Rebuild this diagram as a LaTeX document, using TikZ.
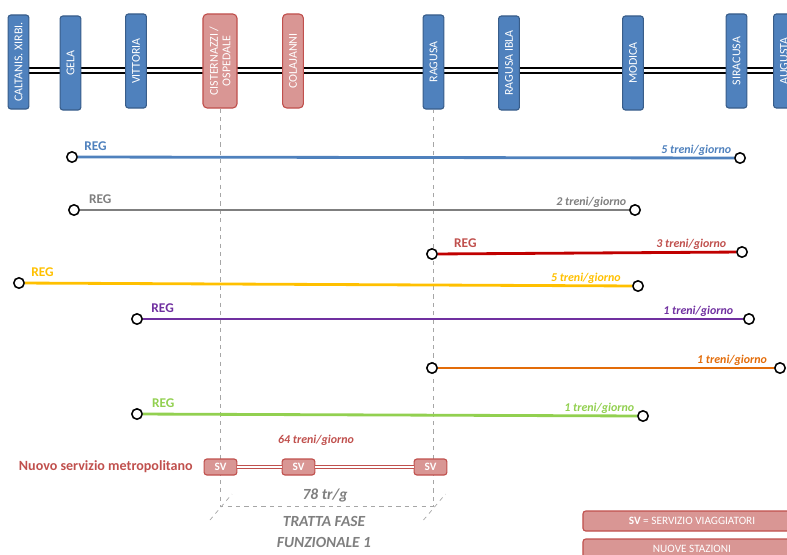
\documentclass[tikz,border=0pt]{standalone}
\usepackage{fontspec}
\setmainfont{Carlito}
\usepackage{xcolor}
\usepackage{tikz}

\definecolor{stblue}{HTML}{4F81BD}
\definecolor{stbluedk}{HTML}{385D8A}
\definecolor{stred}{HTML}{D99694}
\definecolor{streddk}{HTML}{C0504D}
\definecolor{lnblue}{HTML}{4F81BD}
\definecolor{lngrey}{HTML}{7F7F7F}
\definecolor{lnred}{HTML}{C00000}
\definecolor{lnyellow}{HTML}{FFC000}
\definecolor{lnpurple}{HTML}{7030A0}
\definecolor{lnorange}{HTML}{E36C09}
\definecolor{lngreen}{HTML}{92D050}
\definecolor{guidegrey}{HTML}{A6A6A6}

\begin{document}
\begin{tikzpicture}[x=0.025cm,y=-0.025cm]
    \tikzset{station/.style = {shape=rectangle, rounded corners=2pt, draw=stbluedk, fill=stblue, line width=0.8pt,
        text=white, rotate=90, minimum width=2.35cm, minimum height=0.52cm, inner sep=1pt,
        font=\fontsize{8.5}{9}\selectfont, align=center}}
    \tikzset{newstation/.style = {station, draw=streddk, fill=stred, rounded corners=3pt}}
    \tikzset{track/.style = {draw=black, double=white, line width=1pt, double distance=2.5pt}}
    \tikzset{stop/.style = {shape=circle, draw=black, fill=white, line width=1.1pt, minimum size=0.26cm, inner sep=0pt}}
    \tikzset{svc/.style = {line width=2pt}}
    \tikzset{reg/.style = {anchor=base west, inner sep=1pt, xshift=2.5pt, yshift=4.5pt,
        font=\bfseries\fontsize{9.5}{10}\selectfont}}
    \tikzset{freq/.style = {anchor=base east, inner sep=1pt, yshift=3pt,
        font=\bfseries\itshape\fontsize{8.5}{9}\selectfont}}
    \tikzset{sv/.style = {shape=rectangle, rounded corners=2pt, draw=streddk, fill=stred, line width=0.8pt,
        text=white, minimum width=0.82cm, minimum height=0.4cm, inner sep=1pt,
        font=\bfseries\fontsize{8}{9}\selectfont}}
    \tikzset{metro/.style = {draw=streddk, double=white, line width=0.6pt, double distance=1.2pt}}
    \tikzset{guide/.style = {draw=guidegrey, dashed, line width=0.5pt}}
    \tikzset{grey text/.style = {text=lngrey, font=\bfseries\itshape\fontsize{11}{15}\selectfont, align=center}}
    \tikzset{legend/.style = {shape=rectangle, rounded corners=2pt, draw=streddk, fill=stred, line width=0.8pt,
        text=white, minimum width=5.45cm, minimum height=0.5cm, inner sep=1pt, font=\fontsize{8}{9}\selectfont}}

    \useasboundingbox (0,0) rectangle (787,554);

    % linea ferroviaria
    \coordinate (tl) at (25,70.5);
    \coordinate (tr) at (795,70.5);
    \draw[track] (tl) -- (tr);

    % stazioni
    \node[station] (calt) at (18.5,62) {CALTANIS. XIRBI.};
    \node[station] (gela) at (70.5,63) {GELA};
    \node[station] (vitt) at (136,61) {VITTORIA};
    \node[newstation, minimum height=0.85cm] (cist) at (220,61) {CISTERNAZZI /\\OSPEDALE};
    \node[newstation] (cola) at (293,61) {COLAJANNI};
    \node[station] (ragu) at (433.5,62) {RAGUSA};
    \node[station] (ibla) at (509,63) {RAGUSA IBLA};
    \node[station] (modi) at (633,63) {MODICA};
    \node[station] (sira) at (736.5,61) {SIRACUSA};
    \node[station] (augu) at (784,61) {AUGUSTA};

    % tratta fase funzionale 1
    \coordinate (g1) at (220,506);
    \coordinate (g2) at (433.5,506);
    \draw[guide] (cist.west) -- (g1) -- (g2) -- (ragu.west);
    \draw[guide] ([shift={(-10,14)}]g1) -- ([shift={(12,-12)}]g1);
    \draw[guide] ([shift={(-10,14)}]g2) -- ([shift={(12,-12)}]g2);

    % servizi regionali
    \node[stop] (a1) at (72,157) {};
    \node[stop] (a2) at (740,158) {};
    \draw[svc, lnblue] (a1) -- (a2) node[pos=0, reg] {REG} node[pos=1, freq] {5 treni/giorno};

    \node[stop] (b1) at (74,210) {};
    \node[stop] (b2) at (635,210) {};
    \draw[svc, lngrey] (b1) -- (b2) node[pos=0, reg, xshift=2pt] {REG} node[pos=1, freq] {2 treni/giorno};

    \node[stop] (c1) at (432,254) {};
    \node[stop] (c2) at (742,252) {};
    \draw[svc, lnred] (c1) -- (c2) node[pos=0, reg, xshift=7pt, text=streddk] {REG}
        node[pos=1, freq, xshift=-5pt, text=streddk] {3 treni/giorno};

    \node[stop] (d1) at (19,283) {};
    \node[stop] (d2) at (638,286) {};
    \draw[svc, lnyellow] (d1) -- (d2) node[pos=0, reg] {REG} node[pos=1, freq, xshift=-6pt] {5 treni/giorno};

    \node[stop] (e1) at (137,319) {};
    \node[stop] (e2) at (749,319) {};
    \draw[svc, lnpurple] (e1) -- (e2) node[pos=0, reg, xshift=1.5pt] {REG} node[pos=1, freq, xshift=-5pt] {1 treni/giorno};

    \node[stop] (f1) at (432,368) {};
    \node[stop] (f2) at (780,368) {};
    \draw[svc, lnorange] (f1) -- (f2) node[pos=1, freq, xshift=-3pt] {1 treni/giorno};

    \node[stop] (h1) at (137,414) {};
    \node[stop] (h2) at (643,416) {};
    \draw[svc, lngreen] (h1) -- (h2) node[pos=0, reg, xshift=2pt] {REG} node[pos=1, freq] {1 treni/giorno};

    % nuovo servizio metropolitano
    \node[sv] (sv1) at (220.5,467) {SV};
    \node[sv] (sv2) at (298.5,467) {SV};
    \node[sv] (sv3) at (430.5,467) {SV};
    \draw[metro] (sv1) -- (sv2);
    \draw[metro] (sv2) -- (sv3);
    \node[anchor=east, text=streddk, font=\bfseries\fontsize{10}{12}\selectfont, inner sep=0pt] (metro) at (193,467) {Nuovo servizio metropolitano};
    \node[text=streddk, font=\bfseries\itshape\fontsize{8.5}{9}\selectfont] (freqmetro) at (316,440) {64 treni/giorno};

    \node[grey text] (tot) at (325,495) {78 tr/g};
    \node[grey text] (tratta) at (324,532) {TRATTA FASE\\FUNZIONALE 1};

    % legenda
    \node[legend] (leg1) at (692,521) {\textbf{SV} = SERVIZIO VIAGGIATORI};
    \node[legend] (leg2) at (692,549) {NUOVE STAZIONI};

\end{tikzpicture}
\end{document}
